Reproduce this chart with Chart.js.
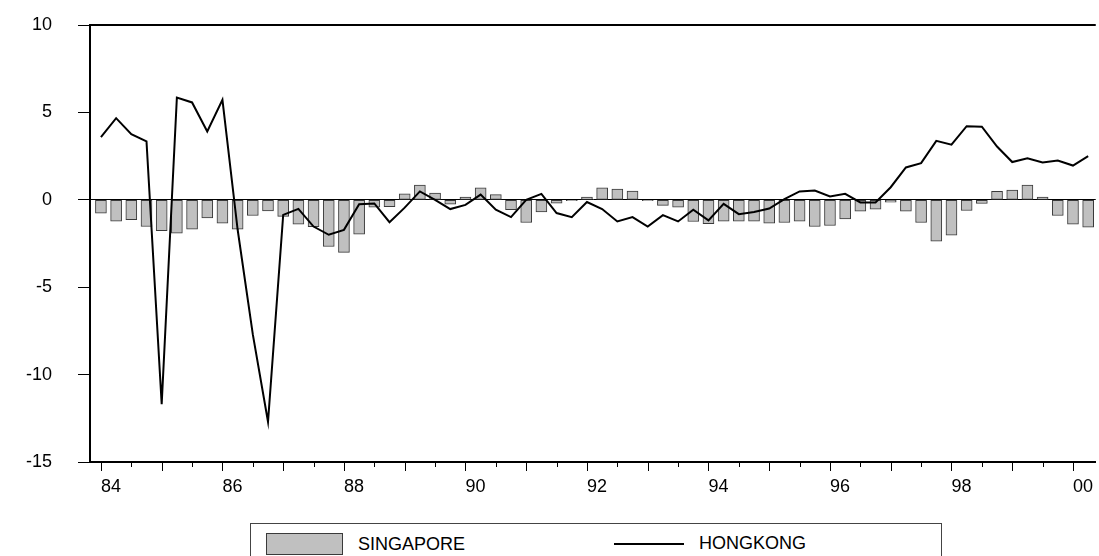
<!DOCTYPE html>
<html>
<head>
<meta charset="utf-8">
<script src="https://cdn.jsdelivr.net/npm/chart.js@4.4.0/dist/chart.umd.min.js"></script>
<style>
  body { margin: 0; background: #fff; }
  #wrap { position: relative; width: 1099px; height: 556px; overflow: hidden; }
  #legend {
    position: absolute; left: 250px; top: 523px; width: 690px; height: 44px;
    border: 1px solid #444; background: #fff;
    font-family: 'Liberation Sans', Arial, sans-serif; font-size: 18px; color: #000;
  }
  .item { position: absolute; top: 9px; display: flex; align-items: center; }
  .swatch { display: inline-block; }
  .item span.txt { margin-left: 15px; }
</style>
</head>
<body>
<div id="wrap">
  <canvas id="chart" width="1099" height="556"></canvas>
  <div id="legend"></div>
</div>
<script>
const quarters = [
  '1984Q1','1984Q2','1984Q3','1984Q4','1985Q1','1985Q2','1985Q3','1985Q4',
  '1986Q1','1986Q2','1986Q3','1986Q4','1987Q1','1987Q2','1987Q3','1987Q4',
  '1988Q1','1988Q2','1988Q3','1988Q4','1989Q1','1989Q2','1989Q3','1989Q4',
  '1990Q1','1990Q2','1990Q3','1990Q4','1991Q1','1991Q2','1991Q3','1991Q4',
  '1992Q1','1992Q2','1992Q3','1992Q4','1993Q1','1993Q2','1993Q3','1993Q4',
  '1994Q1','1994Q2','1994Q3','1994Q4','1995Q1','1995Q2','1995Q3','1995Q4',
  '1996Q1','1996Q2','1996Q3','1996Q4','1997Q1','1997Q2','1997Q3','1997Q4',
  '1998Q1','1998Q2','1998Q3','1998Q4','1999Q1','1999Q2','1999Q3','1999Q4',
  '2000Q1','2000Q2'
];

const singapore = [
  -0.76, -1.22, -1.14, -1.53,
  -1.77, -1.91, -1.68, -1.03,
  -1.33, -1.68, -0.90, -0.63,
  -0.95, -1.39, -1.54, -2.67,
  -3.01, -1.97, -0.42, -0.40,
  0.34, 0.84, 0.38, -0.25,
  0.15, 0.69, 0.30, -0.57,
  -1.30, -0.69, -0.19, -0.05,
  0.15, 0.69, 0.61, 0.50,
  -0.05, -0.32, -0.42, -1.24,
  -1.37, -1.22, -1.22, -1.22,
  -1.33, -1.30, -1.22, -1.53,
  -1.47, -1.10, -0.65, -0.53,
  -0.13, -0.65, -1.30, -2.36,
  -2.02, -0.61, -0.21, 0.48,
  0.55, 0.84, 0.15, -0.90,
  -1.39, -1.56
];

const hongkong = [
  3.59, 4.67, 3.76, 3.34,
  -11.7, 5.85, 5.57, 3.91,
  5.72, -1.7, -7.7, -12.7,
  -0.86, -0.52, -1.53, -2.0,
  -1.72, -0.25, -0.21, -1.28,
  -0.45, 0.48, 0.0, -0.53,
  -0.29, 0.30, -0.57, -0.99,
  0.0, 0.34, -0.76, -0.99,
  -0.13, -0.53, -1.24, -0.99,
  -1.53, -0.88, -1.24, -0.57,
  -1.18, -0.23, -0.82, -0.70,
  -0.50, 0.04, 0.48, 0.53,
  0.19, 0.34, -0.15, -0.15,
  0.72, 1.85, 2.10, 3.37,
  3.15, 4.21, 4.18, 3.05,
  2.16, 2.38, 2.14, 2.25,
  1.96, 2.50
];

const tickQuarters = ['1984Q1','1986Q1','1988Q1','1990Q1','1992Q1','1994Q1','1996Q1','1998Q1','2000Q1'];
const tickLabels = ['84','86','88','90','92','94','96','98','00'];
const yTicks = [10, 5, 0, -5, -10, -15];

const fontFamily = "'Liberation Sans', Arial, sans-serif";

// frame on top and minor/major ticks under the x axis
const framePlugin = {
  id: 'frame',
  afterDraw(chart) {
    const ctx = chart.ctx;
    const area = chart.chartArea;
    const xs = chart.scales.x;
    ctx.save();
    ctx.strokeStyle = '#000';
    ctx.lineWidth = 2;
    ctx.beginPath();
    ctx.moveTo(area.left - 1, area.top);
    ctx.lineTo(area.right, area.top);
    ctx.stroke();
    ctx.lineWidth = 1;
    for (let i = 0; i < quarters.length; i += 2) {
      const x = Math.round(xs.getPixelForValue(i)) + 0.5;
      const len = quarters[i].endsWith('Q1') ? 9 : 5;
      ctx.beginPath();
      ctx.moveTo(x, area.bottom);
      ctx.lineTo(x, area.bottom + len);
      ctx.stroke();
    }
    ctx.restore();
  }
};

const chart = new Chart(document.getElementById('chart'), {
  type: 'bar',
  data: {
    datasets: [
      {
        type: 'line',
        label: 'HONGKONG',
        data: hongkong.map((v, i) => ({ x: i, y: v })),
        borderColor: '#000',
        borderWidth: 2,
        pointRadius: 0,
        tension: 0,
        fill: false,
        order: 0,
      },
      {
        type: 'bar',
        label: 'SINGAPORE',
        data: singapore.map((v, i) => ({ x: i, y: v })),
        backgroundColor: '#c0c0c0',
        borderColor: '#3a3a3a',
        borderWidth: 1,
        borderSkipped: false,
        barThickness: 11,
        order: 1,
      },
    ],
  },
  options: {
    responsive: false,
    animation: false,
    layout: { padding: { top: 25, right: 0, bottom: 64, left: 0 } },
    plugins: { legend: { display: false }, tooltip: { enabled: false } },
    scales: {
      x: {
        type: 'linear',
        min: -0.72,
        max: 65.5,
        offset: false,
        grid: { drawOnChartArea: false, drawTicks: true, tickLength: 8, tickColor: 'rgba(0,0,0,0)' },
        border: { display: true, color: '#000', width: 2 },
        afterBuildTicks: (scale) => {
          scale.ticks = tickQuarters.map((q) => ({ value: quarters.indexOf(q) }));
        },
        afterFit: (scale) => { scale.height = 30; },
        ticks: {
          align: 'start',
          autoSkip: false,
          maxRotation: 0,
          padding: 6,
          color: '#000',
          font: { family: fontFamily, size: 18 },
          callback: (v, idx) => tickLabels[idx],
        },
      },
      y: {
        min: -15,
        max: 10,
        afterBuildTicks: (scale) => {
          scale.ticks = yTicks.map((v) => ({ value: v }));
        },
        afterFit: (scale) => {
          scale.width = 90;
          scale.paddingTop = 0;
          scale.paddingBottom = 0;
        },
        grid: {
          drawOnChartArea: true,
          color: (c) => (c.tick && c.tick.value === 0 ? '#000' : 'rgba(0,0,0,0)'),
          tickColor: '#000',
          tickLength: 12,
          lineWidth: 1,
        },
        border: { display: true, color: '#000', width: 2 },
        ticks: {
          padding: 26,
          color: '#000',
          font: { family: fontFamily, size: 18 },
        },
      },
    },
  },
  plugins: [framePlugin],
});

// legend box built from the datasets
const legend = document.getElementById('legend');
const barDs = chart.data.datasets[1];
const lineDs = chart.data.datasets[0];
legend.innerHTML =
  '<div class="item" style="left:15px"><span class="swatch" style="width:75px;height:20px;background:' +
  barDs.backgroundColor + ';border:1px solid ' + barDs.borderColor + '"></span><span class="txt">' +
  barDs.label + '</span></div>' +
  '<div class="item" style="left:363px"><span class="swatch" style="width:70px;height:2px;background:' +
  lineDs.borderColor + '"></span><span class="txt">' + lineDs.label + '</span></div>';
</script>
</body>
</html>
